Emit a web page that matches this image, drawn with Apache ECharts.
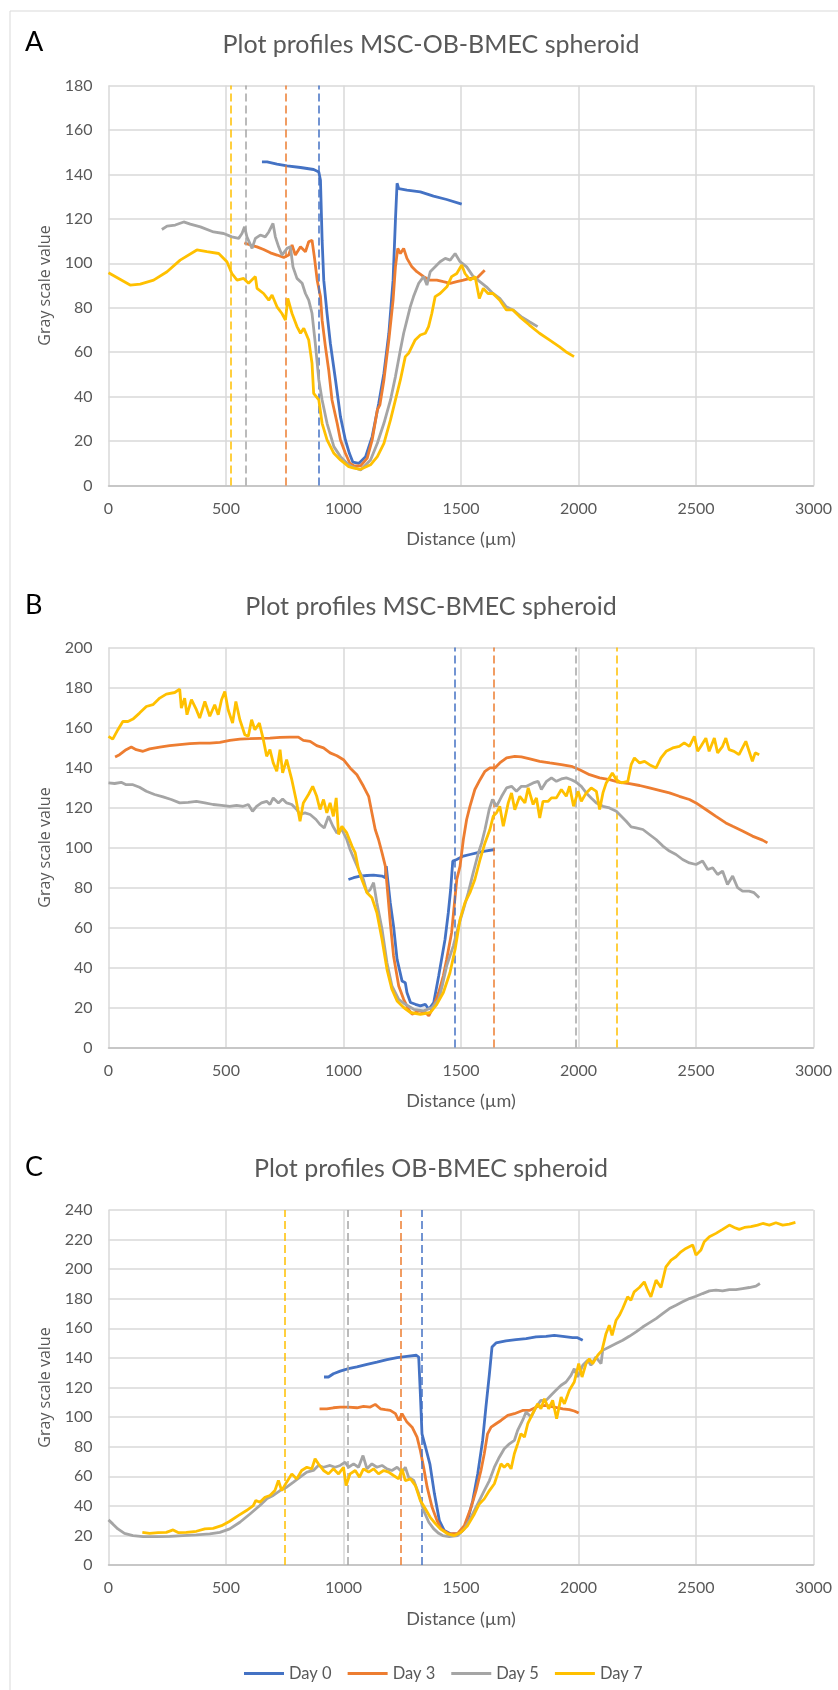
<!DOCTYPE html>
<html>
<head>
<meta charset="utf-8">
<script src="https://cdn.jsdelivr.net/npm/echarts@6/dist/echarts.min.js"></script>
<style>
html, body { margin: 0; padding: 0; background: #fff; }
#chart { width: 838px; height: 1690px; }
</style>
</head>
<body>
<div id="chart"></div>
<script>
// series names and colours (Excel office palette)
var dayNames = ['Day 0', 'Day 3', 'Day 5', 'Day 7'];
var dayColors = ['#4472C4', '#ED7D31', '#A5A5A5', '#FFC000'];

var panelTitles = ['Plot profiles MSC-OB-BMEC spheroid', 'Plot profiles MSC-BMEC spheroid', 'Plot profiles OB-BMEC spheroid'];
var panelLetters = ['A', 'B', 'C'];
var yMax = [180, 200, 240];

// dashed markers (distance, µm) per day
var aMarks = [895, 753, 582, 521];
var bMarks = [1472, 1639, 1987, 2161];
var cMarks = [1335, 1244, 1019, 751];

// ---- A : MSC-OB-BMEC ----
var a0 = [[653,145.6],[675,145.6],[717,144.6],[760,143.8],[817,143.1],[873,142.2],[895,141.1],[902,137.4],[909,110.4],[916,92.4],[930,77.4],[944,64],[966,47.5],[987,31],[1008,20.5],[1025,14.5],[1040,10.5],[1066,10],[1094,13],[1122,22],[1150,37],[1172,50.5],[1193,68.5],[1211,92.4],[1221,119.4],[1228,136],[1235,133.6],[1270,132.9],[1327,132.1],[1383,130.2],[1439,128.7],[1503,126.6]];
var a3 = [[578,109.2],[604,108.2],[632,107.4],[660,106.2],[689,104.7],[717,103.7],[746,102.6],[767,103.7],[781,108.2],[795,103.7],[817,107.4],[838,105.2],[852,109.7],[866,110.4],[876,102.9],[888,92.4],[902,85],[909,74.4],[923,62.5],[937,52],[951,38.5],[973,28],[987,20.5],[1008,14.5],[1027,10],[1045,8.8],[1073,8.8],[1101,12.3],[1122,20.5],[1144,34],[1155,36.3],[1172,47.5],[1193,65.5],[1211,83.4],[1221,98.4],[1231,106.7],[1242,104.4],[1256,106.7],[1270,102.2],[1291,98.4],[1312,96.2],[1341,94],[1369,92.4],[1397,92.4],[1425,91.7],[1454,91],[1482,91.7],[1510,92.4],[1538,93.2],[1566,93.2],[1587,95.4],[1601,96.9]];
var a5 = [[227,115.2],[249,116.7],[284,117.2],[320,118.6],[348,117.6],[391,116.4],[447,114.1],[490,113.4],[525,111.9],[554,111.2],[568,113.4],[579,116.4],[589,111.9],[611,106.7],[625,111.2],[646,112.7],[667,111.9],[682,114.1],[700,117.9],[710,111.9],[724,107.4],[738,103.7],[760,106.7],[774,107.4],[785,98.4],[802,93.2],[824,91],[838,86.4],[852,83.4],[866,77.5],[880,64],[895,47.5],[909,38.5],[930,28],[959,17.5],[987,13],[1015,10],[1035,8.5],[1073,7],[1115,11.5],[1144,19],[1172,28],[1200,38.5],[1221,49],[1242,61],[1256,68.5],[1270,74.4],[1284,80.4],[1298,85],[1320,91],[1341,94],[1355,90.2],[1369,96.2],[1390,98.4],[1411,100.7],[1433,102.2],[1454,101.4],[1475,104.4],[1496,100.7],[1524,98.4],[1552,94],[1580,91.7],[1608,89.4],[1636,86.4],[1665,84.2],[1693,80.4],[1721,79],[1756,76],[1791,73.7],[1826,71.5]];
var a7 = [[0,95.7],[92,90.2],[135,90.6],[192,92.4],[249,96.2],[305,101.4],[376,106],[419,105.2],[469,104.4],[504,100.7],[525,95.4],[547,92.4],[575,93.2],[596,91],[625,94],[632,88.7],[660,86.4],[682,83.4],[696,85.7],[717,80.4],[738,77.4],[753,74.4],[763,84.2],[781,77.4],[802,71.5],[817,68.5],[831,70.7],[852,65.5],[866,55],[873,41.5],[895,38.5],[909,28],[930,20.5],[959,14.5],[987,11.5],[1022,8.5],[1045,7.8],[1073,7.3],[1115,9.3],[1144,13],[1172,19],[1200,29.5],[1221,38.5],[1242,47.5],[1263,58],[1277,59.5],[1291,62.5],[1305,65.5],[1327,67.7],[1348,68.5],[1362,71.5],[1376,77.5],[1390,85],[1411,86.4],[1440,89.4],[1460,94],[1482,95.4],[1503,99.2],[1517,95.4],[1539,92.4],[1560,94],[1578,84.2],[1595,88.7],[1615,86.4],[1636,86.4],[1665,83.4],[1693,79],[1721,79],[1749,76],[1791,72.2],[1834,68.5],[1876,65.5],[1918,62.5],[1946,60.2],[1981,58]];

// ---- B : MSC-BMEC ----
var b0 = [[1021,84],[1043,84.9],[1071,85.7],[1100,86],[1128,86.2],[1164,85.7],[1178,84.9],[1182,90.7],[1188,84],[1199,72.4],[1213,60.7],[1228,44.1],[1249,33.3],[1263,32.4],[1270,27.5],[1285,22.5],[1306,21.6],[1327,20.8],[1348,21.6],[1363,19.1],[1384,22.5],[1405,35.8],[1432,54],[1446,67.4],[1456,79],[1465,93.2],[1470,94],[1482,94],[1510,95.7],[1538,96.5],[1567,97.3],[1602,98.2],[1644,99]];
var b3 = [[28,145.3],[47,146.4],[75,148.9],[97,150.2],[118,148.9],[147,148.1],[175,149.3],[218,150.2],[260,150.9],[303,151.4],[346,151.9],[388,152.2],[431,152.2],[474,152.6],[516,153.6],[559,154.2],[602,154.4],[644,154.6],[687,154.7],[730,155.1],[772,155.2],[808,155.2],[829,153.6],[858,153.1],[886,150.9],[915,149.8],[943,147.3],[972,145.9],[1000,143.9],[1028,139.8],[1057,136.4],[1085,130.6],[1107,125.6],[1121,117.3],[1135,109],[1149,104],[1164,97.3],[1178,90.7],[1188,77.4],[1199,62.4],[1213,45.8],[1235,30.8],[1256,24.1],[1277,19.1],[1292,16.6],[1320,18.3],[1349,17.5],[1363,15.8],[1384,20.8],[1405,27.5],[1425,36],[1439,44.1],[1460,57.4],[1482,84],[1496,90.7],[1510,104],[1524,114],[1538,120.6],[1559,129],[1581,133.9],[1602,138.1],[1623,139.8],[1644,139.8],[1665,142.3],[1694,144.8],[1729,145.6],[1757,145.3],[1793,144.3],[1835,143.1],[1878,142.3],[1927,141.4],[1970,140.6],[2005,138.9],[2047,136.4],[2090,134.8],[2132,133.9],[2175,132.6],[2217,131.9],[2260,131],[2302,129.8],[2344,128.6],[2387,127.3],[2429,125.6],[2472,124],[2500,122.3],[2542,119],[2585,115.6],[2627,112.3],[2656,110.6],[2698,108.2],[2740,105.7],[2783,103.7],[2804,102.3]];
var b5 = [[0,132.3],[26,132],[54,132.6],[75,131.4],[104,131.4],[132,130.1],[161,128.1],[196,126.5],[232,125.3],[267,124],[303,122.3],[339,122.6],[374,123.1],[410,122.3],[445,121.5],[481,121.1],[516,120.6],[545,121.1],[573,120.6],[595,121.5],[613,118.1],[630,120.6],[651,122.3],[673,123.1],[687,121.5],[701,124.8],[723,122.3],[741,124.3],[758,122.3],[780,121.5],[801,119],[815,116.5],[836,117.3],[858,116.5],[883,114],[900,111.5],[918,109.8],[936,115.6],[955,110.6],[972,107.3],[993,109],[1014,104],[1028,99],[1043,94.8],[1064,89],[1085,84],[1100,77.4],[1114,79],[1128,82.4],[1142,72.4],[1164,59.1],[1185,42.4],[1206,30.8],[1235,24.1],[1263,21.6],[1299,19.1],[1341,18.3],[1377,20],[1405,24.1],[1420,30.8],[1439,40.8],[1467,50.7],[1489,60.7],[1510,69],[1531,77.4],[1552,87.4],[1574,97.3],[1588,102.3],[1602,109],[1620,119],[1634,124],[1651,120.6],[1673,125.6],[1694,129.8],[1715,130.6],[1736,128.1],[1757,130.6],[1779,130.6],[1807,132.3],[1828,133.1],[1842,129],[1864,133.1],[1885,134.8],[1906,133.1],[1927,134.3],[1948,134.8],[1970,133.9],[1991,132.6],[2012,130.6],[2033,127.3],[2054,124.8],[2076,122.3],[2104,120.6],[2132,119.8],[2161,118.1],[2182,115.6],[2203,113.1],[2224,110.3],[2245,109.8],[2274,109],[2302,106.5],[2330,104],[2359,100.7],[2387,98.2],[2415,96.5],[2443,94],[2472,92.3],[2500,91.5],[2528,93.2],[2550,89],[2571,89.9],[2592,86.5],[2613,88.2],[2634,81.5],[2656,85.7],[2677,79.9],[2698,78.2],[2726,78.2],[2747,77.4],[2769,74.9]];
var b7 = [[0,155.6],[18,154.2],[40,158.9],[61,163],[83,163],[104,164.2],[132,167.2],[161,170.5],[189,171.4],[218,174.7],[246,176.7],[282,177.5],[303,179.2],[310,169.7],[324,174.7],[334,166.4],[353,173.9],[374,168.9],[388,164.7],[410,173],[431,165.6],[452,171.4],[467,166.4],[481,173.9],[495,178],[509,168.9],[528,162.2],[542,173],[559,163.9],[580,156.4],[595,155.6],[609,163.9],[623,158.9],[642,162.2],[659,153.9],[673,145.6],[687,148.9],[701,142.3],[716,138.1],[730,148.9],[741,137.3],[758,143.9],[780,133.9],[798,124],[815,113.1],[829,122.3],[851,126.5],[869,130.6],[886,125.6],[900,119],[915,124],[929,117.3],[943,122.3],[957,115.6],[969,124.8],[979,106.5],[993,110.6],[1014,107.3],[1036,100.7],[1050,97.3],[1064,89],[1078,84],[1100,77.4],[1121,74.9],[1142,67.4],[1164,54],[1185,39.1],[1206,29.1],[1228,23.3],[1256,20],[1285,17.5],[1327,16.6],[1370,17.5],[1397,21.6],[1425,27.5],[1453,37.4],[1475,49.1],[1496,64.1],[1517,72.4],[1538,77.4],[1559,84],[1581,94],[1602,102.3],[1623,109],[1637,115.6],[1651,117.3],[1665,120.6],[1680,110.6],[1701,122.3],[1715,127.3],[1729,118.9],[1750,125.6],[1772,122.3],[1786,129.8],[1807,121.5],[1821,124.8],[1835,114.8],[1849,123.1],[1871,123.1],[1885,124.8],[1906,124.8],[1927,129],[1948,125.6],[1962,130.6],[1979,120.6],[1998,128.1],[2012,123.1],[2033,127.3],[2054,129.8],[2076,128.1],[2090,119],[2104,127.3],[2118,132.3],[2144,137.3],[2161,133.9],[2182,132.3],[2210,133.1],[2224,141.4],[2238,144.8],[2260,142.3],[2281,143.1],[2302,141.4],[2330,139.8],[2351,144.8],[2373,148.1],[2401,149.8],[2429,150.6],[2450,152.3],[2472,150.6],[2493,155.6],[2507,148.1],[2521,150.6],[2542,154.7],[2556,148.1],[2578,154.7],[2592,147.3],[2613,150.6],[2627,154.7],[2641,148.9],[2662,148.1],[2683,146.4],[2712,153.1],[2726,148.1],[2740,143.1],[2752,147.3],[2769,146.4]];

// ---- C : OB-BMEC ----
var c0 = [[917,127.1],[936,127.1],[957,129.3],[986,131.1],[1021,132.7],[1057,133.9],[1100,135.7],[1142,137.2],[1185,138.8],[1228,140.2],[1270,141.1],[1310,141.8],[1320,140.6],[1327,115.8],[1334,88.7],[1349,79.7],[1368,68],[1387,48.1],[1408,30],[1429,23.3],[1457,21],[1486,21],[1507,23.3],[1528,30],[1550,43.6],[1571,61.6],[1592,84.2],[1606,106.8],[1621,129.3],[1632,147.4],[1649,150.1],[1691,151.5],[1734,152.4],[1777,153],[1819,154.2],[1862,154.6],[1897,155.3],[1933,154.6],[1975,153.7],[1996,153.7],[2018,151.9]];
var c3 = [[898,105.6],[929,105.6],[957,106.3],[986,106.8],[1021,106.8],[1057,106.3],[1085,107.2],[1114,106.8],[1135,108.6],[1157,105.6],[1178,105],[1199,104.5],[1221,102.3],[1235,97.7],[1249,102.3],[1270,96.6],[1292,93.2],[1313,86.5],[1327,77.4],[1341,66.1],[1356,52.6],[1377,39],[1398,30],[1415,24.4],[1450,21],[1486,21.4],[1514,26.6],[1543,39],[1564,50.3],[1585,63.9],[1599,75.2],[1613,88.7],[1628,93.2],[1649,95.5],[1670,97.7],[1699,101.1],[1727,102.3],[1762,104.5],[1791,104.5],[1826,107.2],[1862,107.9],[1897,106.8],[1933,105.6],[1961,105],[1982,104.1],[2001,102.7]];
var c5 = [[0,30.5],[18,27.8],[40,24.4],[68,21.4],[104,19.9],[147,19.2],[203,19.2],[260,19.4],[317,19.9],[374,20.3],[431,21],[474,22.1],[516,24.4],[559,28.9],[602,34.5],[644,40.2],[673,44.7],[701,47],[730,50.3],[758,52.6],[787,56],[815,59.4],[844,62.8],[872,63.9],[893,67.3],[915,66.1],[943,67.3],[964,66.1],[986,67.3],[1007,69.5],[1021,66.1],[1043,68.4],[1064,66.1],[1083,74],[1100,65],[1121,68.4],[1142,66.1],[1164,67.3],[1185,65],[1206,63.9],[1228,66.1],[1249,62.8],[1263,66.1],[1277,59.4],[1299,57.1],[1320,48.1],[1341,36.8],[1363,28.9],[1384,24.4],[1405,21.4],[1422,19.9],[1450,19.2],[1486,19.9],[1514,24.4],[1543,32.3],[1571,41.3],[1599,50.3],[1621,57.1],[1642,66.1],[1663,72.9],[1684,78.6],[1706,81.9],[1727,84.2],[1741,91],[1762,97.7],[1777,103.4],[1798,100],[1819,106.8],[1840,111.3],[1862,111.3],[1883,114.7],[1904,118.1],[1926,121.5],[1947,123.7],[1968,128.2],[1982,132.7],[1996,127.1],[2018,135],[2039,138.4],[2053,135],[2074,140.6],[2096,136.1],[2103,145.1],[2131,147.4],[2160,149.7],[2188,151.9],[2216,154.6],[2245,157.6],[2273,160.9],[2301,163.7],[2330,166.6],[2358,170],[2387,173.4],[2415,175.6],[2443,177.9],[2472,180.1],[2500,181.7],[2528,183.5],[2557,185.3],[2585,185.8],[2613,185.3],[2642,186.2],[2670,186.2],[2698,186.9],[2727,187.6],[2755,188.5],[2772,190.3]];
var c7 = [[144,22.1],[175,21.4],[211,21.9],[246,22.1],[275,23.7],[296,21.9],[331,22.1],[374,22.8],[410,24.4],[445,24.8],[481,26.6],[516,29.6],[552,33.4],[587,36.8],[616,40.2],[627,43.6],[644,42.4],[666,45.8],[687,47],[708,50.3],[723,57.1],[737,50.3],[758,56],[780,61.6],[801,58.2],[822,63.9],[844,66.1],[865,65],[879,71.8],[893,68.4],[915,63.9],[936,61.6],[957,65],[979,61.6],[1000,66.1],[1011,53.7],[1028,61.6],[1050,63.9],[1068,59.4],[1085,65],[1107,62.8],[1128,65],[1149,61.6],[1171,63.9],[1192,62.8],[1213,60.5],[1235,58.2],[1249,65],[1263,57.1],[1285,58.2],[1306,53.7],[1327,43.6],[1349,37.9],[1370,32],[1391,28],[1412,24.4],[1443,21],[1472,19.9],[1500,22.1],[1528,26.6],[1557,34.5],[1578,41.3],[1599,44.7],[1621,50.3],[1642,54.9],[1656,61.6],[1670,68.4],[1684,66.1],[1699,68.4],[1713,65],[1727,75.2],[1741,81.9],[1755,88.7],[1770,86.5],[1784,95.5],[1805,102.3],[1826,109],[1840,105.6],[1855,112.4],[1873,105.6],[1890,111.3],[1907,98.9],[1926,113.5],[1940,109],[1961,118.1],[1982,123.7],[2001,136.1],[2015,127.1],[2032,136.1],[2046,139.5],[2060,136.1],[2082,141.8],[2100,145.1],[2117,156.4],[2131,162.1],[2143,155.3],[2160,165.5],[2174,168.8],[2188,173.4],[2209,181.3],[2223,179],[2237,184.7],[2259,187.6],[2280,191.4],[2294,185.8],[2308,181.3],[2330,192.6],[2351,187.6],[2372,201.6],[2394,206.1],[2415,208.4],[2436,211.7],[2457,214],[2486,216.3],[2500,209.5],[2521,212.9],[2535,218.5],[2557,221.9],[2585,224.2],[2613,226.9],[2642,229.8],[2663,228.2],[2684,226.9],[2706,228.2],[2734,228.7],[2762,229.8],[2784,230.9],[2812,229.8],[2840,231.4],[2869,229.8],[2897,230.5],[2923,231.6]];

var panelData = [[a0, a3, a5, a7], [b0, b3, b5, b7], [c0, c3, c5, c7]];
var panelMarks = [aMarks, bMarks, cMarks];

var chart = echarts.init(document.getElementById('chart'));
var labelFont = 'Lato, "Noto Sans", sans-serif';

var grids = [
    { left: 108.5, top: 85.5, width: 705, height: 400 },
    { left: 108.5, top: 647.5, width: 705, height: 400 },
    { left: 108.5, top: 1210, width: 705, height: 355 }
];
var titleY = [45, 607, 1169];
var letterY = [42, 605, 1167];

var xAxes = [], yAxes = [], series = [], graphics = [];

grids.forEach(function (g, p) {
    xAxes.push({
        gridIndex: p, type: 'value', min: 0, max: 3000, interval: 500,
        name: 'Distance (µm)', nameLocation: 'middle', nameGap: 45,
        nameTextStyle: { color: '#595959', fontSize: 18, fontFamily: labelFont },
        axisLine: { show: true, lineStyle: { color: '#bfbfbf', width: 1.5 } },
        axisTick: { show: false },
        axisLabel: {
            color: '#595959', fontSize: 16, fontFamily: labelFont, margin: 15,
            formatter: function (v) { return String(v); }
        },
        splitLine: { show: true, lineStyle: { color: '#d9d9d9', width: 1.5 } }
    });
    yAxes.push({
        gridIndex: p, type: 'value', min: 0, max: yMax[p], interval: 20,
        name: 'Gray scale value', nameLocation: 'middle', nameGap: 52,
        nameTextStyle: { color: '#595959', fontSize: 16, fontFamily: '"Open Sans", sans-serif' },
        axisLine: { show: false },
        axisTick: { show: false },
        axisLabel: { color: '#595959', fontSize: 16, fontFamily: labelFont, margin: 16 },
        splitLine: { show: true, lineStyle: { color: '#d9d9d9', width: 1.5 } }
    });
    panelData[p].forEach(function (d, k) {
        series.push({
            name: dayNames[k], type: 'line', xAxisIndex: p, yAxisIndex: p,
            data: d, showSymbol: false, symbol: 'none', smooth: false,
            color: dayColors[k],
            lineStyle: { color: dayColors[k], width: 2.8 },
            z: 3 + k,
            markLine: {
                silent: true, symbol: ['none', 'none'], label: { show: false },
                lineStyle: { color: dayColors[k], type: [8, 4], width: 1.5 },
                data: [{ xAxis: panelMarks[p][k] }]
            }
        });
    });
    graphics.push({
        type: 'text', x: 431, y: titleY[p],
        style: { text: panelTitles[p], fill: '#595959', font: '25px ' + labelFont, textAlign: 'center', textVerticalAlign: 'middle' }
    });
    graphics.push({
        type: 'text', x: 25, y: letterY[p],
        style: { text: panelLetters[p], fill: '#000', font: '27px ' + labelFont, textAlign: 'left', textVerticalAlign: 'middle' }
    });
});

// figure frame (top and left edges)
graphics.push({ type: 'line', shape: { x1: 10, y1: 11, x2: 838, y2: 11 }, style: { stroke: '#d9d9d9', lineWidth: 1 } });
graphics.push({ type: 'line', shape: { x1: 10, y1: 11, x2: 10, y2: 1690 }, style: { stroke: '#d9d9d9', lineWidth: 1 } });

chart.setOption({
    animation: false,
    backgroundColor: '#fff',
    grid: grids,
    xAxis: xAxes,
    yAxis: yAxes,
    legend: {
        data: dayNames, left: 239, top: 1660,
        icon: 'rect', itemWidth: 40, itemHeight: 3, itemGap: 16,
        textStyle: { color: '#595959', fontSize: 16.5, fontFamily: labelFont }
    },
    graphic: graphics,
    series: series
});
</script>
</body>
</html>
